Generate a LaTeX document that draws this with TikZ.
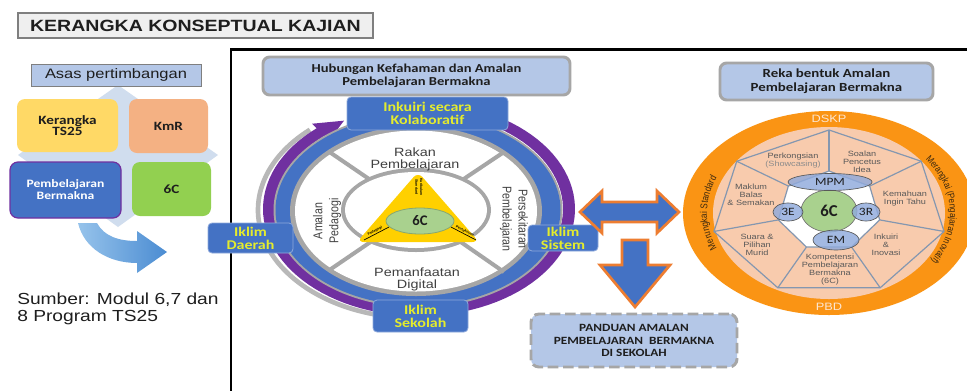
\documentclass[tikz,border=0pt]{standalone}
\usepackage{fontspec}
\setmainfont{Liberation Sans}
\newfontfamily\arx[FakeStretch=1.2]{Liberation Sans}
\newfontfamily\arv[FakeStretch=0.83]{Liberation Sans}
\newfontfamily\cbx[FakeStretch=1.2]{Carlito}
\newfontfamily\cbn{Carlito}
\newcommand\setfs[2]{\fontsize{#1}{#2}\selectfont}
\usetikzlibrary{fit,decorations.text}

\definecolor{hdrblue}{RGB}{180,199,231}
\definecolor{midblue}{RGB}{68,114,196}
\definecolor{ringpurple}{RGB}{112,48,160}
\definecolor{ringgray}{RGB}{166,166,166}
\definecolor{boxgray}{RGB}{127,127,127}
\definecolor{titlegray}{RGB}{239,239,239}
\definecolor{iklimtxt}{RGB}{228,236,45}
\definecolor{tsyellow}{RGB}{255,217,102}
\definecolor{kmrorange}{RGB}{244,177,131}
\definecolor{sixcgreen}{RGB}{146,208,80}
\definecolor{diamondblue}{RGB}{208,221,238}
\definecolor{triyellow}{RGB}{255,208,0}
\definecolor{ellgreen}{RGB}{169,209,142}
\definecolor{ringorange}{RGB}{250,148,20}
\definecolor{peach}{RGB}{248,203,173}
\definecolor{spokeblue}{RGB}{132,151,176}
\definecolor{arroworange}{RGB}{237,125,49}
\definecolor{segtxt}{RGB}{89,89,89}
\definecolor{ringtxt}{RGB}{60,40,15}
\definecolor{paletxt}{RGB}{252,230,210}
\definecolor{lightblue}{RGB}{143,170,220}
\definecolor{darktxt}{RGB}{30,30,30}
\definecolor{circtxt}{RGB}{64,64,64}
\definecolor{arrowlight}{RGB}{150,195,235}
\definecolor{arrowdark}{RGB}{75,140,210}

\tikzset{
  boxbase/.style={inner sep=0pt},
  hdrbox/.style={boxbase, draw=ringgray, line width=2.2pt, fill=hdrblue, rounded corners=5pt},
  iklim/.style={boxbase, draw=lightblue, line width=0.6pt, fill=midblue, rounded corners=3pt},
  iklimtext/.style={inner sep=0pt, align=center, text=iklimtxt, font=\cbx\bfseries\setfs{10}{9.8}},
  quad/.style={boxbase, rounded corners=6pt},
  quadtext/.style={inner sep=0pt, align=center, font=\cbx\bfseries\setfs{9.5}{8.8}},
  hdrtext/.style={inner sep=0pt, align=center, text=darktxt},
  segtext/.style={align=center, text=segtxt, font=\arx\setfs{5.7}{6}, inner sep=0pt},
  ringlabel/.style={align=center, text=circtxt, font=\arx\setfs{9}{9}, inner sep=0pt},
  sideringlabel/.style={align=center, text=circtxt, font=\arv\setfs{9.6}{12}, inner sep=0pt},
  tinylabel/.style={font=\bfseries\setfs{2.6}{3}, inner sep=0pt, align=center},
  blockarrow/.style={fill=midblue, draw=arroworange, line width=2pt, line join=miter},
  smallell/.style={fill=lightblue, fill opacity=0.82, draw=black!65, line width=0.5pt},
  celltext/.style={font=\cbx\setfs{8.4}{9}, text=darktxt, inner sep=0pt},
}

\begin{document}
\begin{tikzpicture}[x=0.75pt,y=-0.75pt]
\useasboundingbox (0,0) rectangle (967,390);
\clip (0,0) rectangle (967,390);
\fill[white] (0,0) rectangle (967,390);

% ---------- title ----------
\node[boxbase, fit={(18,13) (373,38)}, draw=boxgray, line width=1.2pt, fill=titlegray] (titlebox) {};
\node[font=\arx\bfseries\setfs{12.2}{13}, inner sep=0pt, text=darktxt] (title) at (titlebox.center) {KERANGKA KONSEPTUAL KAJIAN};

% ---------- frame around the two models ----------
\draw[line width=1.8pt] (231,395) -- (231,49.5) -- (975,49.5);

% ---------- left column ----------
\fill[diamondblue] (118,85) -- (218,155) -- (118,227) -- (18,155) -- cycle;
\node[boxbase, fit={(31,64) (201,86)}, draw=boxgray, line width=0.6pt, fill=hdrblue] (asas) {};
\node[font=\arx\setfs{10.3}{11}, text=darktxt, inner sep=0pt] (asastext) at (asas.center) {Asas pertimbangan};

\node[quad, fit={(17,99) (118,152)}, fill=tsyellow] (ts25) {};
\node[quadtext, text=darktxt] (ts25text) at (ts25.center) {Kerangka\\TS25};
\node[quad, fit={(129,99) (208,153)}, fill=kmrorange] (kmr) {};
\node[quadtext, text=darktxt] (kmrtext) at (kmr.center) {KmR};
\node[quad, fit={(10,162) (121,218)}, fill=midblue, draw=ringpurple, line width=0.9pt] (pb) {};
\node[quadtext, text=white, font=\cbx\bfseries\setfs{8.5}{9}] (pbtext) at (pb.center) {Pembelajaran\\Bermakna};
\node[quad, fit={(132,162) (211,216)}, fill=sixcgreen] (sixc) {};
\node[quadtext, text=darktxt] (sixctext) at (sixc.center) {6C};

\shade[left color=arrowlight, right color=arrowdark]
  (78,223) -- (97,223) .. controls (104,236) and (118,241) .. (137,241)
  -- (137,231) -- (167,252) -- (137,273) -- (137,263)
  .. controls (108,263) and (84,248) .. (78,223) -- cycle;

\node[anchor=north west, align=left, font=\arx\setfs{12}{12.8}, text=darktxt, inner sep=0pt]
  (sumber) at (17,293) {Sumber: Modul 6,7 dan\\8 Program TS25};

% ---------- middle model ----------
\node[hdrbox, fit={(263,57) (570,95)}] (hubhdr) {};
\node[hdrtext, font=\cbx\bfseries\setfs{9.1}{9.6}] (hubtext) at (hubhdr.center)
  {Hubungan Kefahaman dan Amalan\\Pembelajaran Bermakna};

% soft gray edge under the circular arrow
\draw[ringgray!80, line width=3.5pt] plot[domain=95:228, samples=60] ({415+157*cos(\x)},{210+108*sin(\x)});

% circular arrow
\fill[ringpurple]
  plot[domain=-60:229, samples=90] ({419+156*cos(\x)},{209+107*sin(\x)})
  -- ({419+163*cos(229)},{209+113*sin(229)})
  -- ({419+150*cos(240)},{209+102*sin(240)})
  -- ({419+137*cos(229)},{209+91*sin(229)})
  -- plot[domain=229:-60, samples=90] ({419+144*cos(\x)},{209+97*sin(\x)}) -- cycle;

% rings
\fill[ringgray] (418,210) ellipse[x radius=144.5, y radius=97.5];
\fill[midblue] (418,210) ellipse[x radius=142.5, y radius=95.5];
\fill[ringgray] (416,211) ellipse[x radius=126, y radius=85];
\fill[white] (416,211) ellipse[x radius=121, y radius=80.5];
\foreach \dx/\dy in {-88/-60, -88/60, 88/-59, 88/61}
  \draw[ringgray, line width=3pt] (416,211) -- ++(\dx,\dy);
\fill[ringgray] (416,210) ellipse[x radius=75, y radius=42];
\fill[white] (416,210) ellipse[x radius=71, y radius=38];

% triangle and core
\fill[triyellow, rounded corners=5pt] (418,172) -- (479,242) -- (357,242) -- cycle;
\coordinate (tl1) at (389,227);
\coordinate (tl2) at (364,240);
\coordinate (tr1) at (451,227);
\coordinate (tr2) at (476,240);
\draw[black, line width=0.5pt] (tl1) -- (tl2);
\draw[black, line width=0.5pt] (tr1) -- (tr2);
\node[tinylabel, rotate=27] (pedtiny) at (375,231) {Pedagogi};
\node[tinylabel, rotate=-27] (pentiny) at (465,231) {Pentaksiran};
\node[tinylabel, rotate=-90] (kurtiny) at (419,187) {Kurikulum\\[0.6pt]Standard};
\draw[ellgreen!80!black, fill=ellgreen, line width=0.6pt] (420,221) ellipse[x radius=34, y radius=13];
\node[font=\cbn\bfseries\setfs{11}{11}, text=darktxt, inner sep=0pt] (core) at (420,221) {6C};

% ring texts
\node[ringlabel] (rakan) at (415,159) {Rakan\\Pembelajaran};
\node[ringlabel] (digital) at (417,279) {Pemanfaatan\\Digital};
\node[sideringlabel, rotate=90] (amalan) at (327,221) {Amalan\\Pedagogi};
\node[sideringlabel, rotate=-90] (persek) at (514,219) {Persekitaran\\Pembelajaran};

% boxes on the ring
\node[iklim, fit={(347,97) (508,130)}] (inkuiri) {};
\node[iklimtext] (inkuiritext) at (inkuiri.center) {Inkuiri secara\\Kolaboratif};
\node[iklim, fit={(208,223) (293,253)}] (daerah) {};
\node[iklimtext] (daerahtext) at (daerah.center) {Iklim\\Daerah};
\node[iklim, fit={(528,225) (598,251)}] (sistem) {};
\node[iklimtext] (sistemtext) at (sistem.center) {Iklim\\Sistem};
\node[iklim, fit={(373,300) (468,332)}] (sekolah) {};
\node[iklimtext] (sekolahtext) at (sekolah.center) {Iklim\\Sekolah};

% ---------- block arrows ----------
\draw[blockarrow] (580,212) -- (602,191) -- (602,202) -- (657,202) -- (657,191) -- (679,212)
  -- (657,233) -- (657,222) -- (602,222) -- (602,233) -- cycle;
\draw[blockarrow] (622,240) -- (648,240) -- (648,265) -- (670,265) -- (635,307)
  -- (600,265) -- (622,265) -- cycle;

\node[boxbase, fit={(531,314) (737,367)}, fill=hdrblue, draw=ringgray, dash pattern=on 8pt off 3.5pt,
      line width=2.2pt, rounded corners=6pt] (panduan) {};
\node[hdrtext, font=\cbx\bfseries\setfs{8.3}{9.4}] (panduantext) at (panduan.center)
  {PANDUAN AMALAN\\PEMBELAJARAN\ \ BERMAKNA\\DI SEKOLAH};

% ---------- right model ----------
\node[hdrbox, fit={(720,63) (933,100)}] (rekahdr) {};
\node[hdrtext, font=\cbx\bfseries\setfs{9.3}{10.5}] (rekatext) at (rekahdr.center)
  {Reka bentuk Amalan\\Pembelajaran Bermakna};

\fill[ringorange] (829,213) ellipse[x radius=146, y radius=102];
\fill[peach] (829,213) ellipse[x radius=116, y radius=86];

\foreach \k in {0,...,6}{
  \coordinate (ho\k) at ({829+118*cos(270+\k*360/7)},{213+83*sin(270+\k*360/7)});
  \coordinate (hi\k) at ({829+52*cos(270+\k*360/7)},{211+40*sin(270+\k*360/7)});
}
\fill[white] (hi0) -- (hi1) -- (hi2) -- (hi3) -- (hi4) -- (hi5) -- (hi6) -- cycle;
\draw[spokeblue, line width=0.9pt, line join=round]
  (ho0) -- (ho1) -- (ho2) -- (ho3) -- (ho4) -- (ho5) -- (ho6) -- cycle;
\draw[spokeblue, line width=0.9pt, line join=round]
  (hi0) -- (hi1) -- (hi2) -- (hi3) -- (hi4) -- (hi5) -- (hi6) -- cycle;
\foreach \k in {0,...,6}
  \draw[spokeblue, line width=0.9pt] (ho\k) -- (hi\k);

\node[segtext] (seg1) at (793,161) {Perkongsian\\{\color{segtxt!70}(Showcasing)}};
\node[segtext] (seg2) at (862,162) {Soalan\\Pencetus\\Idea};
\node[segtext] (seg3) at (905,199) {Kemahuan\\Ingin Tahu};
\node[segtext] (seg4) at (886,245) {Inkuiri\\\&\\Inovasi};
\node[segtext] (seg5) at (830,270) {Kompetensi\\Pembelajaran\\Bermakna\\(6C)};
\node[segtext] (seg6) at (757,245) {Suara \&\\Pilihan\\Murid};
\node[segtext] (seg7) at (751,195) {Maklum\\Balas\\\& Semakan};

% centre cluster
\draw[fill=ellgreen, draw=black!55, line width=0.5pt] (829,211) ellipse[x radius=28, y radius=21];
\draw[smallell] (830,182) ellipse[x radius=42, y radius=8.5];
\draw[smallell] (788,212) ellipse[x radius=15, y radius=9];
\draw[smallell] (866,212) ellipse[x radius=14, y radius=9];
\draw[smallell] (836,240) ellipse[x radius=23, y radius=10];
\node[font=\cbn\bfseries\setfs{12.5}{12}, text=darktxt, inner sep=0pt] (core2) at (829,211) {6C};
\node[celltext] (mpm) at (830,182) {MPM};
\node[celltext] (tigae) at (788,212) {3E};
\node[celltext] (tigar) at (866,212) {3R};
\node[celltext] (em) at (836,240) {EM};

% ring labels
\node[font=\arx\setfs{8}{8}, text=paletxt, inner sep=0pt] (dskp) at (829,119) {DSKP};
\node[font=\arx\setfs{8}{8}, text=paletxt, inner sep=0pt] (pbd) at (829,307) {PBD};
\begin{scope}[transform canvas={shift={(829,213)}}]
  \path[decorate, decoration={text along path, text align=center,
      text={|\arv\setfs{7.4}{8}\color{ringtxt}|Merungkai Standard}}]
    (128:122 and 89) arc[start angle=128, end angle=232, x radius=122, y radius=89];
  \path[decorate, decoration={text along path, text align=center,
      text={|\arv\setfs{7.2}{8}\color{ringtxt}|Merangkai (Pengajaran Inovatif)}}]
    (-62:121 and 89) arc[start angle=-62, end angle=58, x radius=121, y radius=89];
\end{scope}

\end{tikzpicture}
\end{document}
